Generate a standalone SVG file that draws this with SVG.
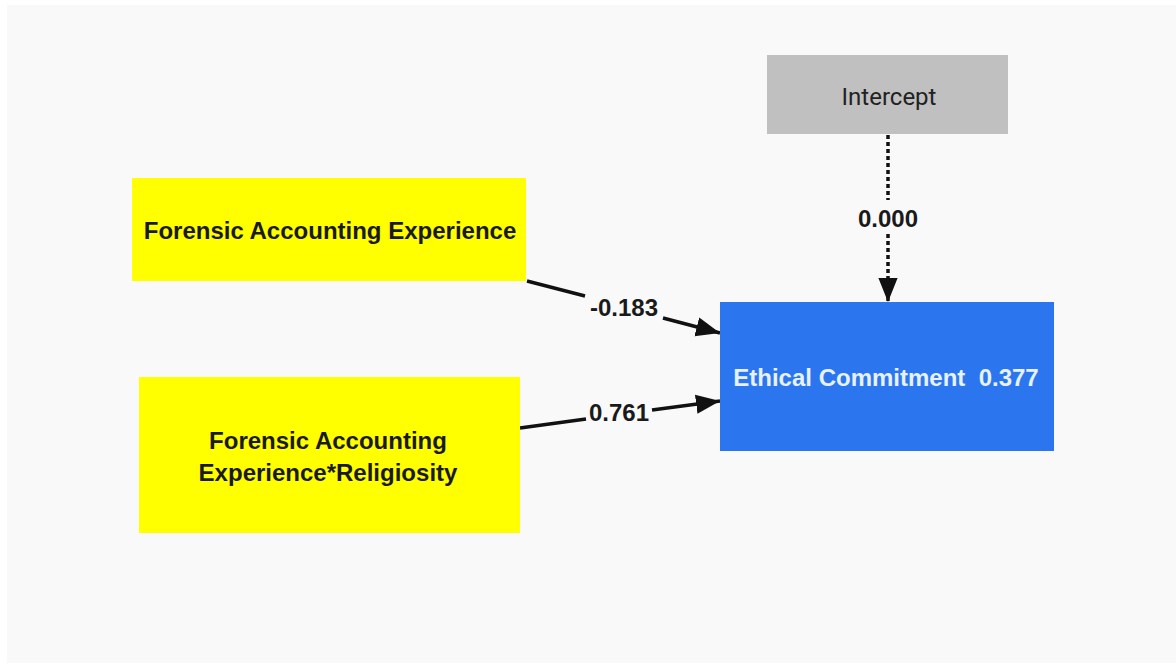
<svg xmlns="http://www.w3.org/2000/svg" width="1176" height="666" viewBox="0 0 1176 666">
<style>
.lbl{font-family:"Liberation Sans",Arial,sans-serif;font-size:24px;font-weight:bold;fill:#1a1a1a;text-anchor:middle}
.edge{stroke:#111;stroke-width:3.5;fill:none}
.elbl{font-family:"Liberation Sans",Arial,sans-serif;font-size:24px;font-weight:bold;fill:#1a1a1a;text-anchor:middle}
</style>
<defs>
<marker id="arrB" viewBox="0 0 10 10" refX="10" refY="5" markerWidth="24" markerHeight="24" markerUnits="userSpaceOnUse" orient="auto">
<path d="M0,1 L10,5 L0,9 z" fill="#111"/>
</marker>
</defs>
<rect x="0" y="0" width="1176" height="666" fill="#ffffff"/>
<rect x="7" y="5" width="1169" height="658" fill="#f9f9f9"/>
<g id="connectors">
<line class="edge" x1="527" y1="281" x2="585" y2="296"/>
<line class="edge" x1="663" y1="318" x2="720" y2="333" marker-end="url(#arrB)"/>
<line class="edge" x1="520" y1="428" x2="586" y2="419"/>
<line class="edge" x1="652" y1="410" x2="720" y2="401" marker-end="url(#arrB)"/>
<line class="edge" x1="888" y1="135" x2="888" y2="200" stroke-dasharray="4,3"/>
<line class="edge" x1="888" y1="234" x2="888" y2="302" stroke-dasharray="4,3" marker-end="url(#arrB)"/>
<text class="elbl" x="624" y="316">-0.183</text>
<text class="elbl" x="619" y="421">0.761</text>
<text class="elbl" x="888" y="227">0.000</text>
</g>
<g id="node-intercept">
<rect x="767" y="55" width="241" height="79" fill="#c0c0c0"/>
<text x="889" y="105" font-family="Roboto,'Liberation Sans',sans-serif" font-size="24" fill="#222" text-anchor="middle">Intercept</text>
</g>
<g id="node-fae">
<rect x="132" y="178" width="394" height="103" fill="#ffff00"/>
<text class="lbl" x="330" y="239">Forensic Accounting Experience</text>
</g>
<g id="node-faer">
<rect x="139" y="377" width="381" height="156" fill="#ffff00"/>
<text class="lbl" x="328" y="449">Forensic Accounting</text>
<text class="lbl" x="328" y="481">Experience*Religiosity</text>
</g>
<g id="node-ec">
<rect x="720" y="302" width="334" height="149" fill="#2b76ee"/>
<text x="886" y="386" font-family="'Liberation Sans',Arial,sans-serif" font-size="24" font-weight="bold" fill="#e6f2ff" text-anchor="middle" xml:space="preserve">Ethical Commitment  0.377</text>
</g>
</svg>
